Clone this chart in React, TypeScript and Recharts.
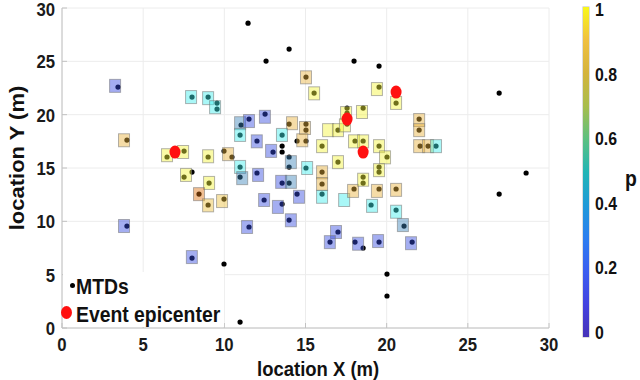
import { ScatterChart, Scatter, XAxis, YAxis, CartesianGrid } from 'recharts';

// device positions (m)
const mtdPoints: [number, number][] = [
  [11.46, 28.58], [13.99, 26.15], [12.57, 25.02], [17.99, 25.02], [19.53, 24.56],
  [26.93, 22.02], [26.93, 12.56], [28.59, 14.53], [9.98, 6.0], [10.97, 0.56],
  [20.02, 5.06], [20.02, 3.0], [13.56, 17.06], [13.56, 16.5],
  [3.45, 22.59], [4.0, 17.62], [8.01, 21.65], [9.0, 21.65], [9.55, 21.09], [9.55, 20.52],
  [11.03, 19.03], [11.52, 19.59], [12.51, 20.06], [13.99, 19.12], [15.03, 19.12], [15.03, 18.56],
  [10.97, 18.09], [12.01, 17.53], [13.56, 18.09], [14.48, 17.53], [15.03, 17.53], [13.0, 16.49],
  [13.99, 16.03], [13.99, 15.09], [15.03, 15.0], [6.47, 16.03], [7.52, 16.59], [9.0, 16.03],
  [9.98, 16.59], [10.47, 16.03], [8.01, 14.62], [7.52, 14.15], [9.06, 13.59], [8.44, 12.56],
  [9.0, 11.53], [9.98, 12.09], [10.97, 15.09], [10.97, 14.15], [12.01, 14.53], [13.56, 13.59],
  [13.99, 13.59], [14.48, 12.56], [12.45, 12.0], [13.56, 11.62], [13.99, 10.12], [11.52, 9.47],
  [4.0, 9.56], [8.01, 6.56], [15.03, 23.52], [15.53, 22.02], [19.53, 22.59], [20.58, 21.09],
  [17.56, 20.62], [17.56, 20.15], [18.55, 20.62], [22.0, 19.59], [22.0, 18.56], [22.06, 17.06],
  [22.55, 17.06], [23.04, 17.06], [17.0, 18.56], [17.56, 19.12], [16.02, 17.06], [18.05, 17.53],
  [18.55, 17.53], [19.53, 17.06], [20.02, 16.03], [17.0, 15.56], [16.02, 14.62], [18.55, 14.15],
  [18.55, 13.59], [19.53, 15.09], [19.53, 14.62], [16.02, 13.5], [16.02, 12.56], [17.99, 13.03],
  [19.53, 13.03], [20.58, 13.03], [19.04, 11.53], [20.58, 11.06], [21.07, 9.56], [17.0, 9.0],
  [16.51, 8.06], [18.05, 8.06], [18.55, 7.5], [19.53, 8.06], [21.57, 8.06],
];

// estimated cells: x, y, p
const cellPoints: [number, number, number][] = [
  [3.27, 22.7, 0.08], [3.82, 17.6, 0.85], [7.95, 21.65, 0.5], [9.0, 21.55, 0.5], [9.43, 20.7, 0.5],
  [10.97, 19.2, 0.35], [11.52, 19.4, 0.1], [12.5, 19.8, 0.1], [14.17, 19.2, 0.85], [14.97, 18.75, 0.85],
  [10.97, 18.1, 0.5], [12.0, 17.5, 0.1], [13.55, 18.1, 0.5], [14.8, 17.6, 0.85], [12.88, 16.6, 0.1],
  [14.1, 15.55, 0.35], [15.1, 15.0, 0.5], [6.47, 16.2, 1], [7.46, 16.5, 1], [9.0, 16.1, 1],
  [10.23, 16.3, 0.85], [7.64, 14.35, 1], [9.06, 13.6, 1], [8.44, 12.55, 0.78], [9.0, 11.5, 0.88],
  [9.86, 11.9, 0.88], [10.97, 15.1, 0.5], [11.1, 14.05, 0.35], [12.08, 14.35, 0.1], [13.5, 13.7, 0.1],
  [14.1, 13.7, 0.35], [14.6, 12.3, 0.1], [12.45, 12.0, 0.1], [13.3, 11.35, 0.1], [14.1, 10.1, 0.1],
  [11.4, 9.47, 0.1], [3.82, 9.56, 0.1], [8.0, 6.65, 0.1], [15.03, 23.5, 0.85], [15.53, 22.0, 1],
  [19.4, 22.4, 1], [20.58, 21.1, 1], [17.5, 20.15, 1], [18.48, 20.25, 1], [22.0, 19.5, 0.85],
  [22.0, 18.55, 0.85], [22.0, 17.05, 0.85], [22.55, 17.05, 0.85], [23.04, 17.05, 0.5], [16.39, 18.55, 1],
  [17.0, 18.55, 1], [17.43, 19.0, 1], [16.02, 17.05, 1], [17.99, 17.5, 1], [18.55, 17.5, 1],
  [19.53, 17.05, 1], [19.9, 16.0, 1], [17.0, 15.55, 1], [16.02, 14.6, 0.85], [19.53, 14.8, 1],
  [16.02, 13.5, 0.85], [16.02, 12.3, 0.5], [17.38, 12.0, 0.5], [17.93, 12.85, 0.85], [18.55, 13.9, 1],
  [19.4, 12.85, 0.85], [20.58, 12.95, 0.85], [19.1, 11.45, 0.5], [20.58, 10.9, 0.5], [21.0, 9.65, 0.35],
  [16.88, 9.0, 0.1], [16.5, 8.05, 0.1], [18.24, 7.9, 0.1], [19.47, 8.15, 0.1], [21.5, 7.95, 0.1],
];

const epicenterPoints: [number, number][] = [
  [6.96, 16.49], [17.56, 19.59], [18.55, 16.49], [20.58, 22.12],
];

const xTicks = [0, 5, 10, 15, 20, 25, 30];
const yTicks = [0, 5, 10, 15, 20, 25, 30];
const pTicks = [0, 0.2, 0.4, 0.6, 0.8, 1];

const mtds = mtdPoints.map(([x, y]) => ({ x, y }));
const cells = cellPoints.map(([x, y, p]) => ({ x, y, p }));
const epicenters = epicenterPoints.map(([x, y]) => ({ x, y }));

const FONT = '"Liberation Sans", Arial, sans-serif';
const SQUISH = 0.88;

const CELL_STOPS: [number, string][] = [
  [0, '#3333ee'],
  [0.35, '#3f86bb'],
  [0.5, '#40eeee'],
  [0.78, '#dd7010'],
  [0.85, '#e8b23c'],
  [1, '#f4f43a'],
];

const BAR_STOPS: [number, string][] = [
  [0, '#4632b8'],
  [0.1, '#4343e0'],
  [0.2, '#3a5ef0'],
  [0.3, '#2b7ef0'],
  [0.4, '#1f9ad8'],
  [0.5, '#22b5b5'],
  [0.6, '#5cc080'],
  [0.7, '#a8bd4c'],
  [0.8, '#d4b43c'],
  [0.9, '#f0c040'],
  [1, '#f9f81a'],
];

function hexToRgb(h: string) {
  const n = parseInt(h.slice(1), 16);
  return [(n >> 16) & 255, (n >> 8) & 255, n & 255];
}

function cellColor(p: number) {
  for (let i = 1; i < CELL_STOPS.length; i++) {
    const [p0, c0] = CELL_STOPS[i - 1];
    const [p1, c1] = CELL_STOPS[i];
    if (p <= p1) {
      const t = p1 === p0 ? 0 : Math.max(0, (p - p0) / (p1 - p0));
      const a = hexToRgb(c0);
      const b = hexToRgb(c1);
      const mix = a.map((v, k) => Math.round(v + (b[k] - v) * t));
      return `rgb(${mix.join(',')})`;
    }
  }
  return CELL_STOPS[CELL_STOPS.length - 1][1];
}

const XTick = ({ x, y, payload }: any) => (
  <g transform={`translate(${x},${y})`}>
    <text transform={`scale(${SQUISH},1)`} textAnchor="middle" dy="0.71em" fontSize={19} fontWeight="bold" fill="#1a1a1a" fontFamily={FONT}>
      {payload.value}
    </text>
  </g>
);

const YTick = ({ x, y, payload }: any) => (
  <g transform={`translate(${x},${y})`}>
    <text transform={`scale(${SQUISH},1)`} textAnchor="end" dy="0.36em" fontSize={19} fontWeight="bold" fill="#1a1a1a" fontFamily={FONT}>
      {payload.value}
    </text>
  </g>
);

const CellShape = ({ cx, cy, payload }: any) => (
  <rect
    x={cx - 5.5}
    y={cy - 6.5}
    width={11}
    height={13}
    fill={cellColor(payload.p)}
    fillOpacity={0.45}
    stroke="#777"
    strokeOpacity={0.55}
    strokeWidth={1}
  />
);

const DotShape = ({ cx, cy }: any) => <circle cx={cx} cy={cy} r={2.6} fill="#000" />;

const EpicenterShape = ({ cx, cy }: any) => <ellipse cx={cx} cy={cy} rx={5.5} ry={6.5} fill="#ff1010" />;

const squishText = (size: number): React.CSSProperties => ({
  fontFamily: FONT,
  fontWeight: 'bold',
  fontSize: size,
  color: '#111',
  transform: `scaleX(${SQUISH})`,
  transformOrigin: 'left center',
  whiteSpace: 'nowrap',
  position: 'absolute',
  lineHeight: 1,
});

export default function App() {
  const barTop = 7;
  const barHeight = 330;
  const gradient = `linear-gradient(to top, ${BAR_STOPS.map(([p, c]) => `${c} ${p * 100}%`).join(', ')})`;

  return (
    <div style={{ position: 'absolute', left: 0, top: 0, width: 640, height: 380, background: '#fff', overflow: 'hidden' }}>
      <ScatterChart width={640} height={380} margin={{ top: 8, right: 91, bottom: 12, left: 2 }}>
        <CartesianGrid stroke="#ececec" strokeWidth={1} />
        <XAxis
          dataKey="x"
          type="number"
          domain={[0, 30]}
          ticks={xTicks}
          height={40}
          tickSize={-5}
          tickMargin={14}
          tick={<XTick />}
          axisLine={{ stroke: '#c2c2c2' }}
          tickLine={{ stroke: '#c2c2c2' }}
        />
        <YAxis
          dataKey="y"
          type="number"
          domain={[0, 30]}
          ticks={yTicks}
          width={60}
          tickSize={-5}
          tickMargin={12}
          tick={<YTick />}
          axisLine={{ stroke: '#c2c2c2' }}
          tickLine={{ stroke: '#c2c2c2' }}
        />
        <XAxis
          xAxisId="top"
          orientation="top"
          type="number"
          domain={[0, 30]}
          ticks={xTicks}
          height={0}
          tickSize={-5}
          tick={false}
          axisLine={{ stroke: '#cfcfcf' }}
          tickLine={{ stroke: '#cfcfcf' }}
        />
        <YAxis
          yAxisId="right"
          orientation="right"
          type="number"
          domain={[0, 30]}
          ticks={yTicks}
          width={0}
          tickSize={-5}
          tick={false}
          axisLine={{ stroke: '#cfcfcf' }}
          tickLine={{ stroke: '#cfcfcf' }}
        />
        <Scatter data={mtds} shape={<DotShape />} isAnimationActive={false} />
        <Scatter data={cells} shape={<CellShape />} isAnimationActive={false} />
        <Scatter data={epicenters} shape={<EpicenterShape />} isAnimationActive={false} />
      </ScatterChart>

      {/* legend */}
      <div style={{ position: 'absolute', left: 63, top: 272, width: 161, height: 55, background: '#fff' }}>
        <div style={{ position: 'absolute', left: 6.5, top: 10.5, width: 5, height: 5, borderRadius: '50%', background: '#000' }} />
        <div style={{ ...squishText(22), left: 13, top: 4 }}>MTDs</div>
        <div style={{ position: 'absolute', left: -2, top: 34, width: 11, height: 13, borderRadius: '50%', background: '#ff1010' }} />
        <div style={{ ...squishText(22), left: 13, top: 32 }}>Event epicenter</div>
      </div>

      {/* axis titles */}
      <div style={{ ...squishText(21), left: 257, top: 358 }}>location X (m)</div>
      <div
        style={{
          position: 'absolute',
          left: 18,
          top: 158,
          fontFamily: FONT,
          fontWeight: 'bold',
          fontSize: 22,
          color: '#111',
          whiteSpace: 'nowrap',
          lineHeight: 1,
          transform: `translate(-50%, -50%) rotate(-90deg) scale(1, ${SQUISH})`,
        }}
      >
        location Y (m)
      </div>

      {/* colorbar */}
      <div style={{ position: 'absolute', left: 583, top: barTop, width: 6, height: barHeight, background: gradient, boxShadow: '0 0 0 0.5px #bbb' }} />
      {pTicks.map((p) => (
        <div key={p} style={{ ...squishText(18), left: 595, top: 10 + (1 - p) * 323 - 9 }}>
          {p}
        </div>
      ))}
      <div style={{ ...squishText(22), left: 625, top: 168 }}>p</div>
    </div>
  );
}
